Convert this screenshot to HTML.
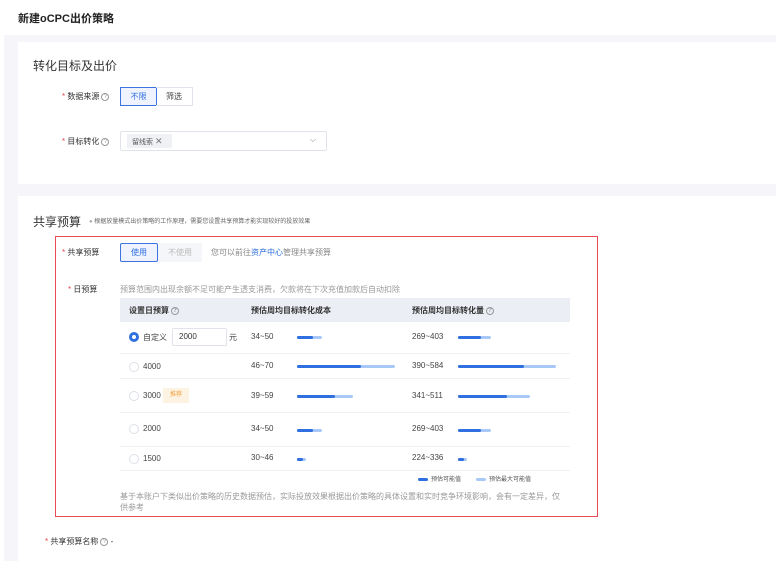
<!DOCTYPE html>
<html><head><meta charset="utf-8"><style>
*{margin:0;padding:0;box-sizing:border-box}
body{width:776px;height:561px;overflow:hidden;background:#fff;font-family:"Liberation Sans","Noto Sans CJK SC",sans-serif;color:#333;position:relative}
.a{position:absolute;white-space:nowrap}
.s{font-size:8px;color:#333}
.req{color:#e84a4a;font-size:8px}
.q{display:inline-block;width:8px;height:8px;border:1px solid #999;border-radius:50%;font-size:6px;line-height:6px;text-align:center;color:#999;vertical-align:middle;margin-left:2px}
.bar{position:absolute;height:3px;border-radius:2px}
.d{background:#2f6fdf}.l{background:#a8c8f8}
.rad{position:absolute;width:10px;height:10px;border:1px solid #dde0e8;border-radius:50%;background:#fff}
.line{position:absolute;left:120px;width:450px;height:1px;background:#eef0f4}
.n{font-size:8px;color:#444}
</style></head><body>
<div class="a" style="left:18px;top:10px;font-size:11px;font-weight:bold;color:#222">新建oCPC出价策略</div>
<div class="a" style="left:4px;top:35px;width:772px;height:526px;background:#f6f6fa"></div>
<div class="a" style="left:18px;top:42px;width:758px;height:142px;background:#fff"></div>
<div class="a" style="left:18px;top:196px;width:758px;height:365px;background:#fff"></div>

<div class="a" style="left:33px;top:57px;font-size:12px;color:#333">转化目标及出价</div>
<div class="a s" style="left:62px;top:91px"><span class="req">*</span> 数据来源<span class="q">?</span></div>
<div class="a" style="left:120px;top:87px;width:37px;height:19px;border:1px solid #3b73e0;background:#eef3ff;color:#2f6fdf;font-size:8px;text-align:center;line-height:17px">不限</div>
<div class="a" style="left:156px;top:87px;width:37px;height:19px;border:1px solid #e0e3ea;border-left:none;color:#444;font-size:8px;text-align:center;line-height:17px">筛选</div>
<div class="a s" style="left:62px;top:136px"><span class="req">*</span> 目标转化<span class="q">?</span></div>
<div class="a" style="left:120px;top:131px;width:207px;height:20px;border:1px solid #e0e3ea;border-radius:2px"></div>
<div class="a" style="left:127px;top:134px;width:45px;height:14px;background:#f0f1f4;font-size:7px;color:#555;line-height:14px;padding-left:5px">留线索 <span style="font-size:9px;color:#777">✕</span></div>
<div class="a" style="left:310px;top:135px;font-size:8px;color:#888">⌵</div>

<div class="a" style="left:33px;top:213px;font-size:12px;color:#333">共享预算</div>
<div class="a" style="left:89px;top:216px;font-size:6px;color:#666"><span style="color:#aaa">●</span> 根据放量模式出价策略的工作原理，需要您设置共享预算才能实现较好的投放效果</div>

<div class="a" style="left:55px;top:236px;width:543px;height:281px;border:1px solid #e84a55"></div>
<div class="a s" style="left:62px;top:247px"><span class="req">*</span> 共享预算</div>
<div class="a" style="left:120px;top:243px;width:38px;height:19px;border:1px solid #3b73e0;background:#eef3ff;color:#2f6fdf;font-size:8px;text-align:center;line-height:17px;border-radius:2px">使用</div>
<div class="a" style="left:158px;top:243px;width:44px;height:19px;background:#f5f6f9;color:#bbb;font-size:8px;text-align:center;line-height:19px">不使用</div>
<div class="a" style="left:211px;top:247px;font-size:8px;color:#888">您可以前往<span style="color:#2f6fdf">资产中心</span>管理共享预算</div>
<div class="a s" style="left:68px;top:284px"><span class="req">*</span> 日预算</div>
<div class="a" style="left:120px;top:284px;font-size:8px;color:#999">预算范围内出现余额不足可能产生透支消费，欠款将在下次充值加款后自动扣除</div>

<div class="a" style="left:120px;top:298px;width:450px;height:24px;background:#eceef5"></div>
<div class="a s" style="left:129px;top:305px;font-weight:bold">设置日预算<span class="q">?</span></div>
<div class="a s" style="left:251px;top:305px;font-weight:bold">预估周均目标转化成本</div>
<div class="a s" style="left:412px;top:305px;font-weight:bold">预估周均目标转化量<span class="q">?</span></div>

<div class="rad" style="left:129px;top:332px;border:3px solid #2f6fdf"></div>
<div class="a n" style="left:143px;top:332px">自定义</div>
<div class="a" style="left:172px;top:328px;width:55px;height:18px;border:1px solid #e0e3ea;border-radius:2px;font-size:8px;line-height:16px;padding-left:6px">2000</div>
<div class="a n" style="left:229px;top:332px">元</div>
<div class="a n" style="left:251px;top:332px">34~50</div>
<div class="bar l" style="left:297px;top:336px;width:25px"></div><div class="bar d" style="left:297px;top:336px;width:16px"></div>
<div class="a n" style="left:412px;top:332px">269~403</div>
<div class="bar l" style="left:458px;top:336px;width:33px"></div><div class="bar d" style="left:458px;top:336px;width:23px"></div>
<div class="line" style="top:353px"></div>

<div class="rad" style="left:129px;top:362px"></div>
<div class="a n" style="left:143px;top:362px">4000</div>
<div class="a n" style="left:251px;top:361px">46~70</div>
<div class="bar l" style="left:297px;top:365px;width:98px"></div><div class="bar d" style="left:297px;top:365px;width:64px"></div>
<div class="a n" style="left:412px;top:361px">390~584</div>
<div class="bar l" style="left:458px;top:365px;width:98px"></div><div class="bar d" style="left:458px;top:365px;width:66px"></div>
<div class="line" style="top:378px"></div>

<div class="rad" style="left:129px;top:391px"></div>
<div class="a n" style="left:143px;top:391px">3000</div>
<div class="a" style="left:163px;top:388px;width:26px;height:15px;background:#fdf3e3;color:#f0a040;font-size:6px;text-align:center;line-height:15px">推荐</div>
<div class="a n" style="left:251px;top:391px">39~59</div>
<div class="bar l" style="left:297px;top:395px;width:56px"></div><div class="bar d" style="left:297px;top:395px;width:38px"></div>
<div class="a n" style="left:412px;top:391px">341~511</div>
<div class="bar l" style="left:458px;top:395px;width:72px"></div><div class="bar d" style="left:458px;top:395px;width:49px"></div>
<div class="line" style="top:412px"></div>

<div class="rad" style="left:129px;top:424px"></div>
<div class="a n" style="left:143px;top:424px">2000</div>
<div class="a n" style="left:251px;top:424px">34~50</div>
<div class="bar l" style="left:297px;top:429px;width:25px"></div><div class="bar d" style="left:297px;top:429px;width:16px"></div>
<div class="a n" style="left:412px;top:424px">269~403</div>
<div class="bar l" style="left:458px;top:429px;width:33px"></div><div class="bar d" style="left:458px;top:429px;width:23px"></div>
<div class="line" style="top:446px"></div>

<div class="rad" style="left:129px;top:454px"></div>
<div class="a n" style="left:143px;top:454px">1500</div>
<div class="a n" style="left:251px;top:453px">30~46</div>
<div class="bar l" style="left:297px;top:458px;width:9px"></div><div class="bar d" style="left:297px;top:458px;width:6px"></div>
<div class="a n" style="left:412px;top:453px">224~336</div>
<div class="bar l" style="left:458px;top:458px;width:9px"></div><div class="bar d" style="left:458px;top:458px;width:6px"></div>
<div class="line" style="top:470px"></div>

<div class="bar d" style="left:418px;top:478px;width:10px"></div>
<div class="a" style="left:431px;top:474px;font-size:6px;color:#555">预估可能值</div>
<div class="bar l" style="left:476px;top:478px;width:10px"></div>
<div class="a" style="left:489px;top:474px;font-size:6px;color:#555">预估最大可能值</div>
<div class="a" style="left:120px;top:491px;font-size:8px;color:#999;line-height:11px">基于本账户下类似出价策略的历史数据预估，实际投放效果根据出价策略的具体设置和实时竞争环境影响，会有一定差异，仅<br>供参考</div>

<div class="a s" style="left:45px;top:536px"><span class="req">*</span> 共享预算名称<span class="q">?</span> -</div>
</body></html>
